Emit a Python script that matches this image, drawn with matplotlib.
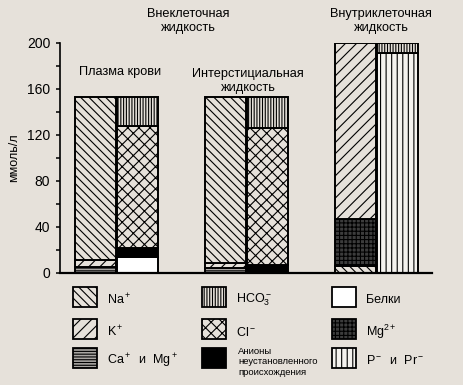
import matplotlib
matplotlib.use('Agg')
import matplotlib.pyplot as plt
from matplotlib.patches import Rectangle

plt.rcParams['font.family'] = ['Liberation Sans', 'DejaVu Sans']
plt.rcParams['mathtext.fontset'] = 'custom'
plt.rcParams['mathtext.rm'] = 'Liberation Sans'
plt.rcParams['mathtext.it'] = 'Liberation Sans'
plt.rcParams['hatch.linewidth'] = 0.8

bg = '#e6e1da'

# values in mmol/l, ions listed from the bottom of each column to the top
groups = [0, 1, 2]
plasma_cat_ions = ['camg', 'k', 'na']
plasma_cat = [5, 6, 142]
plasma_an_ions = ['prot', 'unk', 'cl', 'hco3']
plasma_an = [14, 8, 106, 25]
inter_cat_ions = ['camg', 'k', 'na']
inter_cat = [4, 5, 144]
inter_an_ions = ['unk', 'cl', 'hco3']
inter_an = [7, 119, 27]
intra_cat_ions = ['na', 'mg2', 'k']
intra_cat = [6, 41, 153]
intra_an_ions = ['ppr', 'hco3']
intra_an = [191, 9]

styles = {
    'na':   dict(fc=bg, hatch='\\\\\\\\'),
    'k':    dict(fc=bg, hatch='///'),
    'camg': dict(fc='#a9a6a2', hatch='------'),
    'hco3': dict(fc=bg, hatch='||||||'),
    'cl':   dict(fc=bg, hatch='xxx'),
    'unk':  dict(fc='black', hatch=None),
    'prot': dict(fc='white', hatch=None),
    'mg2':  dict(fc='#3c3c3c', hatch='++++'),
    'ppr':  dict(fc='#f4f2ee', hatch='|||'),
}

columns = [
    (groups[0], -1, plasma_cat_ions, plasma_cat),
    (groups[0], 1, plasma_an_ions, plasma_an),
    (groups[1], -1, inter_cat_ions, inter_cat),
    (groups[1], 1, inter_an_ions, inter_an),
    (groups[2], -1, intra_cat_ions, intra_cat),
    (groups[2], 1, intra_an_ions, intra_an),
]

fig = plt.figure(figsize=(4.64, 3.85), dpi=100)
fig.patch.set_facecolor(bg)
ax = fig.add_axes([60/464, 1-273/385, (432-60)/464, (273-43)/385])
ax.set_facecolor(bg)

width = 0.315
off = 0.16
for g, side, ions, vals in columns:
    bottom = 0
    for ion, v in zip(ions, vals):
        st = styles[ion]
        ax.bar(g + side*off, v, width=width, bottom=bottom, color=st['fc'],
               hatch=st['hatch'], edgecolor='black', linewidth=1.4)
        bottom += v

ax.set_xlim(-0.435, 2.427)
ax.set_ylim(0, 200)
ax.set_yticks(range(0, 201, 40))
ax.set_yticks(range(20, 200, 40), minor=True)
ax.set_xticks([])
ax.tick_params(axis='y', which='both', direction='out', length=3, width=1.1,
               labelsize=10, pad=4)
for s in ['top', 'right']:
    ax.spines[s].set_visible(False)
ax.spines['left'].set_linewidth(1.2)
ax.spines['bottom'].set_linewidth(1.6)
ax.set_ylabel('ммоль/л', fontsize=9, labelpad=5)

# overlay in pixel coordinates for titles and legend
lax = fig.add_axes([0, 0, 1, 1])
lax.set_xlim(0, 464)
lax.set_ylim(385, 0)
lax.axis('off')

fs = 9.2
lax.text(188, 21, 'Внеклеточная\nжидкость', ha='center', va='center', fontsize=fs, linespacing=1.2)
lax.text(381, 21, 'Внутриклеточная\nжидкость', ha='center', va='center', fontsize=fs, linespacing=1.2)
lax.text(120, 72, 'Плазма крови', ha='center', va='center', fontsize=fs)
lax.text(248, 81, 'Интерстициальная\nжидкость', ha='center', va='center', fontsize=fs, linespacing=1.2)

legend_items = [
    ('na', 'Na$^+$'), ('k', 'K$^+$'), ('camg', 'Ca$^+$  и  Mg$^+$'),
    ('hco3', 'HCO$_3^-$'), ('cl', 'Cl$^-$'), ('unk', 'Анионы\nнеустановленного\nпроисхождения'),
    ('prot', 'Белки'), ('mg2', 'Mg$^{2+}$'), ('ppr', 'P$^-$  и  Pr$^-$'),
]
col_x = [73, 202, 332]
row_y = [287, 319, 348]
for i, (ion, label) in enumerate(legend_items):
    cx = col_x[i // 3]
    ry = row_y[i % 3]
    st = styles[ion]
    lax.add_patch(Rectangle((cx, ry), 24, 20, facecolor=st['fc'], hatch=st['hatch'],
                            edgecolor='black', linewidth=1.3))
    if ion == 'unk':
        lax.text(cx + 36, ry + 14, label, ha='left', va='center', fontsize=6.8, linespacing=1.15)
    else:
        lax.text(cx + 34, ry + 13, label, ha='left', va='center', fontsize=9)

fig.savefig('out.png', dpi=100, facecolor=bg)
